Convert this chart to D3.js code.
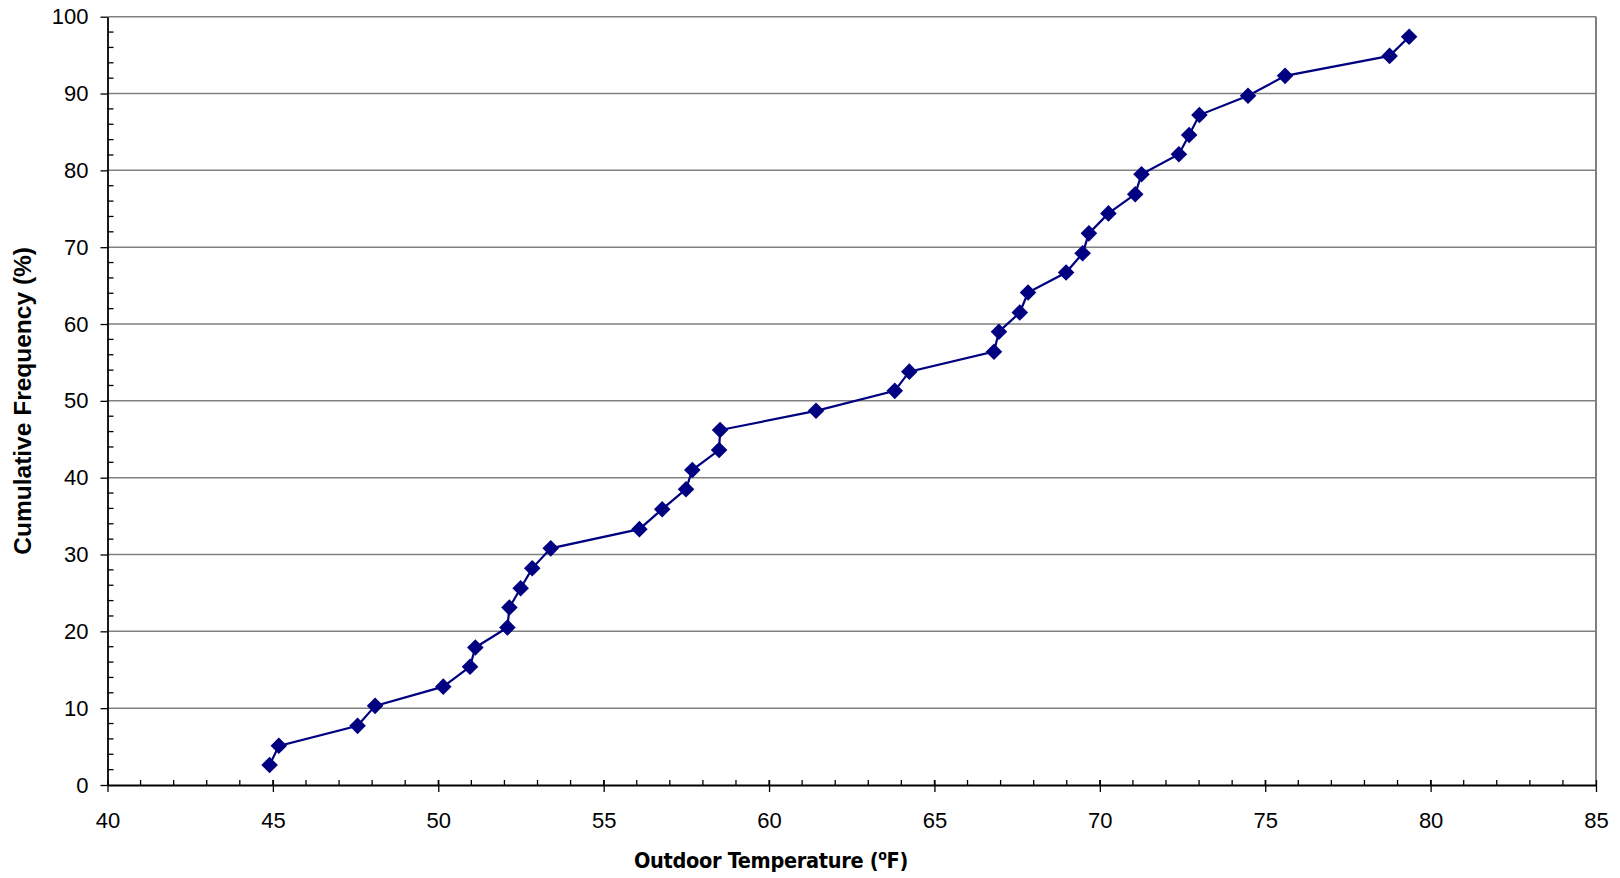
<!DOCTYPE html>
<html lang="en">
<head>
<meta charset="UTF-8">
<script src="https://d3js.org/d3.v7.min.js"></script>
<title>Cumulative Frequency</title>
<style>
  body { margin: 0; background: white; }
  svg { display: block; }
  .tick text { font-family: "Liberation Sans", Arial, sans-serif; font-size: 22px; fill: black; }
</style>
</head>
<body>
<svg></svg>
<script>
// outdoor temperature (F) and cumulative frequency (%)
const temps = [44.9, 45.18, 47.56, 48.09, 50.15, 50.96, 51.12, 52.09, 52.15, 52.49,
               52.84, 53.4, 56.08, 56.77, 57.49, 57.68, 58.49, 58.52, 61.42, 63.8,
               64.24, 66.8, 66.95, 67.58, 67.83, 68.98, 69.48, 69.67, 70.26, 71.07,
               71.26, 72.39, 72.7, 73.01, 74.48, 75.6, 78.76, 79.35];
const cumFreq = [2.6, 5.1, 7.7, 10.3, 12.8, 15.4, 17.9, 20.5, 23.1, 25.6,
                 28.2, 30.8, 33.3, 35.9, 38.5, 41.0, 43.6, 46.2, 48.7, 51.3,
                 53.8, 56.4, 59.0, 61.5, 64.1, 66.7, 69.2, 71.8, 74.4, 76.9,
                 79.5, 82.1, 84.6, 87.2, 89.7, 92.3, 94.9, 97.4];
const xTicks = [40, 45, 50, 55, 60, 65, 70, 75, 80, 85];
const yTicks = [0, 10, 20, 30, 40, 50, 60, 70, 80, 90, 100];

const W = 1620, H = 878;
const mLeft = 107.5, mRight = 1596, mTop = 16.7, mBottom = 785;

const svg = d3.select("svg").attr("width", W).attr("height", H);

const x = d3.scaleLinear().domain([40, 85]).range([mLeft, mRight]);
const y = d3.scaleLinear().domain([0, 100]).range([mBottom, mTop]);

// gridlines
svg.append("g").selectAll("line")
   .data(yTicks.filter(d => d > 0))
   .enter().append("line")
   .attr("x1", mLeft).attr("x2", mRight)
   .attr("y1", d => y(d)).attr("y2", d => y(d))
   .attr("stroke", "#808080").attr("stroke-width", 1.5);

// right border
svg.append("line")
   .attr("x1", mRight).attr("x2", mRight).attr("y1", mTop).attr("y2", mBottom)
   .attr("stroke", "#808080").attr("stroke-width", 2);

// minor ticks (inside)
svg.append("g").selectAll("line")
   .data(d3.range(41, 85))
   .enter().append("line")
   .attr("x1", d => x(d)).attr("x2", d => x(d))
   .attr("y1", mBottom).attr("y2", mBottom - 5)
   .attr("stroke", "black").attr("stroke-width", 1.3);
svg.append("g").selectAll("line")
   .data(d3.range(2, 100, 2).filter(d => d % 10 !== 0))
   .enter().append("line")
   .attr("x1", mLeft).attr("x2", mLeft + 6)
   .attr("y1", d => y(d)).attr("y2", d => y(d))
   .attr("stroke", "black").attr("stroke-width", 1.3);

// axes
const xAxis = d3.axisBottom(x).tickValues(xTicks).tickSize(7).tickPadding(20).tickSizeOuter(0);
const gx = svg.append("g").attr("transform", "translate(0," + mBottom + ")").call(xAxis);
gx.selectAll(".tick line").attr("y1", -5).attr("stroke-width", 1.3);
gx.select(".domain").attr("stroke-width", 1.8);

const yAxis = d3.axisLeft(y).tickValues(yTicks).tickSize(7).tickPadding(12).tickSizeOuter(0);
const gy = svg.append("g").attr("transform", "translate(" + mLeft + ",0)").call(yAxis);
gy.selectAll(".tick line").attr("stroke-width", 1.3);
gy.select(".domain").attr("stroke-width", 1.8);

// data line
const pts = temps.map((t, i) => [t, cumFreq[i]]);
svg.append("path")
   .datum(pts)
   .attr("fill", "none")
   .attr("stroke", "#000080")
   .attr("stroke-width", 2.2)
   .attr("d", d3.line().x(d => x(d[0])).y(d => y(d[1])));

svg.append("g").selectAll("path")
   .data(pts)
   .enter().append("path")
   .attr("transform", d => "translate(" + x(d[0]) + "," + y(d[1])  + ")")
   .attr("d", d3.symbol().type(d3.symbolDiamond2).size(175))
   .attr("fill", "#000080");

// axis titles
svg.append("text")
   .attr("transform", "translate(31," + ((mTop + mBottom) / 2) + ") rotate(-90)")
   .attr("text-anchor", "middle")
   .style("font-family", "Liberation Sans, Arial, sans-serif")
   .style("font-size", "24.5px")
   .style("font-weight", "bold")
   .text("Cumulative Frequency (%)");

const xt = svg.append("text")
   .attr("x", 771).attr("y", 868)
   .attr("text-anchor", "middle")
   .style("font-family", "DejaVu Sans Condensed, DejaVu Sans, sans-serif")
   .style("font-size", "21.5px")
   .style("font-weight", "bold")
   .style("letter-spacing", "-0.3px");
xt.append("tspan").text("Outdoor Temperature (");
xt.append("tspan").attr("dy", -8).style("font-size", "14px").text("o");
xt.append("tspan").attr("dy", 8).text("F)");
</script>
</body>
</html>
